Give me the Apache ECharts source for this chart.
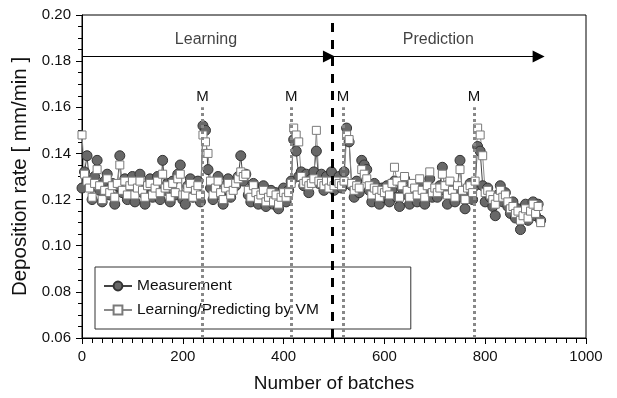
<!DOCTYPE html>
<html>
<head>
<meta charset="utf-8">
<script src="https://cdn.jsdelivr.net/npm/echarts@6/dist/echarts.min.js"></script>
<style>
html, body { margin: 0; padding: 0; background: #fff; }
#chart { width: 617px; height: 398px; }
</style>
</head>
<body>
<div id="chart"></div>
<script>
// one sample every 5 batches, starting at batch 0
var batchStep = 5;

var measurement = [
	0.125, 0.132, 0.139, 0.127, 0.120, 0.130, 0.137, 0.124, 0.119, 0.128,
	0.131, 0.122, 0.127, 0.118, 0.126, 0.139, 0.123, 0.129, 0.120, 0.125,
	0.130,
	0.119, 0.127, 0.131, 0.123, 0.118, 0.126, 0.129, 0.121, 0.125, 0.130,
	0.120, 0.137, 0.124, 0.127, 0.119, 0.128, 0.122, 0.131, 0.135, 0.120,
	0.118, 0.126, 0.129, 0.121, 0.124, 0.128, 0.119, 0.152, 0.150, 0.133,
	0.125, 0.120, 0.127, 0.130, 0.122, 0.118, 0.126, 0.129, 0.121, 0.125,
	0.126, 0.130, 0.139, 0.128, 0.131, 0.122, 0.119, 0.127, 0.124, 0.118,
	0.122, 0.126, 0.117, 0.121, 0.124, 0.118, 0.123, 0.116, 0.120, 0.125,
	0.119, 0.124, 0.128, 0.146, 0.141, 0.130, 0.132, 0.126, 0.131, 0.123,
	0.129, 0.132, 0.141, 0.127, 0.131, 0.124, 0.130, 0.126, 0.132, 0.124,
	0.127, 0.130, 0.125, 0.132, 0.151, 0.145, 0.126, 0.121, 0.128, 0.123,
	0.137, 0.135, 0.133, 0.124, 0.119, 0.127, 0.122, 0.118, 0.125, 0.121,
	0.126, 0.119, 0.124, 0.128, 0.121, 0.117, 0.125, 0.129, 0.122, 0.118,
	0.126, 0.124, 0.119, 0.127, 0.123, 0.118, 0.125, 0.129, 0.121, 0.124,
	0.121, 0.126, 0.134, 0.124, 0.118, 0.127, 0.122, 0.119, 0.125, 0.137,
	0.121, 0.116, 0.124, 0.127, 0.120, 0.126, 0.143, 0.141, 0.126, 0.119,
	0.125, 0.121, 0.117, 0.113, 0.122, 0.126, 0.119, 0.123, 0.117, 0.114,
	0.119, 0.112, 0.116, 0.107, 0.113, 0.118, 0.111, 0.116, 0.119, 0.113,
	0.118, 0.111
];

var vmPrediction = [
	0.148, 0.131, 0.128, 0.125, 0.121, 0.127, 0.133, 0.126, 0.120, 0.124,
	0.129, 0.123, 0.126, 0.121, 0.127, 0.135, 0.124, 0.128, 0.122, 0.126,
	0.128,
	0.122, 0.125, 0.128, 0.124, 0.121, 0.126, 0.127, 0.122, 0.125, 0.128,
	0.123, 0.131, 0.125, 0.126, 0.121, 0.127, 0.123, 0.129, 0.131, 0.122,
	0.122, 0.125, 0.127, 0.121, 0.124, 0.126, 0.122, 0.148, 0.145, 0.140,
	0.128, 0.122, 0.125, 0.128, 0.123, 0.120, 0.125, 0.127, 0.122, 0.124,
	0.127, 0.129, 0.132, 0.130, 0.131, 0.124, 0.121, 0.126, 0.123, 0.120,
	0.122, 0.124, 0.119, 0.121, 0.123, 0.119, 0.122, 0.118, 0.121, 0.123,
	0.121, 0.123, 0.127, 0.151, 0.148, 0.145, 0.130, 0.127, 0.128, 0.126,
	0.127, 0.129, 0.150, 0.128, 0.127, 0.126, 0.128, 0.125, 0.128, 0.126,
	0.128, 0.127, 0.126, 0.128, 0.148, 0.146, 0.127, 0.124, 0.126, 0.125,
	0.133, 0.131, 0.129, 0.126, 0.122, 0.125, 0.124, 0.121, 0.124, 0.123,
	0.125, 0.122, 0.127, 0.134, 0.128, 0.121, 0.126, 0.130, 0.124, 0.121,
	0.127, 0.125, 0.122, 0.129, 0.124, 0.121, 0.126, 0.132, 0.123, 0.125,
	0.123, 0.125, 0.131, 0.126, 0.122, 0.128, 0.124, 0.121, 0.126, 0.133,
	0.124, 0.120, 0.125, 0.126, 0.123, 0.128, 0.151, 0.148, 0.139, 0.123,
	0.124, 0.122, 0.120, 0.118, 0.121, 0.124, 0.121, 0.122, 0.119, 0.116,
	0.117, 0.114, 0.115, 0.111, 0.113, 0.116, 0.112, 0.115, 0.118, 0.114,
	0.117, 0.110
];

// maintenance events (M) and the learning / prediction switch
var maintenanceBatches = [239, 415, 518, 778];
var switchBatch = 497;
var phaseNames = ['Learning', 'Prediction'];
var phaseLabelBatches = [246, 707];

function toPoints(values) {
	var pts = [];
	for (var i = 0; i < values.length; i++) {
		pts.push([i * batchStep, values[i]]);
	}
	return pts;
}

function genOption() {
	var font = 'Liberation Sans, Arial, sans-serif';

	var marks = [];
	for (var i = 0; i < maintenanceBatches.length; i++) {
		marks.push([
			{ coord : [ maintenanceBatches[i], 0.06 ], symbol : 'none' },
			{ coord : [ maintenanceBatches[i], 0.16 ], symbol : 'none' }
		]);
	}

	var guides = [
		[ { coord : [ switchBatch, 0.06 ], symbol : 'none',
			lineStyle : { color : '#000', width : 3, type : [ 9, 8 ] } },
		  { coord : [ switchBatch, 0.20 ], symbol : 'none' } ],
		[ { coord : [ 0, 0.182 ], symbol : 'none',
			lineStyle : { color : '#000', width : 1, type : 'solid' } },
		  { coord : [ 490, 0.182 ], symbol : 'triangle' } ],
		[ { coord : [ 500, 0.182 ], symbol : 'none',
			lineStyle : { color : '#000', width : 1, type : 'solid' } },
		  { coord : [ 906, 0.182 ], symbol : 'triangle' } ]
	];

	var phaseTexts = [];
	for (var j = 0; j < phaseNames.length; j++) {
		phaseTexts.push({ name : phaseNames[j], value : [ phaseLabelBatches[j], 0.1893 ] });
	}

	var option = {
		animation : false,
		grid : {
			left : 82, right : 31, top : 15, bottom : 57,
			show : true, borderColor : '#000', borderWidth : 1
		},
		legend : {
			left : 95, top : 267,
			orient : 'vertical',
			data : [ 'Measurement', 'Learning/Predicting by VM' ],
			backgroundColor : '#fff',
			borderColor : '#333', borderWidth : 1,
			padding : [ 11, 92, 11, 8 ],
			itemGap : 8, itemWidth : 28, itemHeight : 11,
			textStyle : { fontFamily : font, fontSize : 15.5, color : '#111' }
		},
		xAxis : {
			type : 'value', min : 0, max : 1000, interval : 200,
			name : 'Number of batches', nameLocation : 'middle', nameGap : 36,
			nameTextStyle : { fontFamily : font, fontSize : 19, color : '#111' },
			axisLine : { lineStyle : { color : '#000', width : 1 } },
			axisTick : { length : 6, lineStyle : { color : '#000' } },
			minorTick : { show : true, splitNumber : 10, length : 5, lineStyle : { color : '#000' } },
			axisLabel : {
				fontFamily : font, fontSize : 15, color : '#111', margin : 11,
				formatter : function (v) { return String(v); }
			},
			splitLine : { show : false }
		},
		yAxis : {
			type : 'value', min : 0.06, max : 0.20, interval : 0.02,
			name : 'Deposition rate [ mm/min ]', nameLocation : 'middle', nameGap : 45,
			nameTextStyle : { fontFamily : font, fontSize : 20.5, color : '#111' },
			axisLine : { show : true, lineStyle : { color : '#000', width : 1 } },
			axisTick : { show : true, length : 6, lineStyle : { color : '#000' } },
			minorTick : { show : true, splitNumber : 4, length : 4, lineStyle : { color : '#000' } },
			axisLabel : {
				fontFamily : font, fontSize : 15, color : '#111', margin : 11,
				formatter : function (v) { return v.toFixed(2); }
			},
			splitLine : { show : false }
		},
		series : [ {
			name : 'Measurement',
			type : 'line',
			data : toPoints(measurement),
			symbol : 'circle', symbolSize : 10,
			showAllSymbol : true,
			lineStyle : { color : '#444', width : 1 },
			itemStyle : { color : '#686868', borderColor : '#333', borderWidth : 1 },
			markLine : {
				silent : true,
				symbol : 'none',
				lineStyle : { color : '#888', width : 3, type : [ 3, 3 ] },
				label : {
					show : true, position : 'end', formatter : 'M', distance : 3,
					fontFamily : font, fontSize : 15, color : '#111'
				},
				data : marks
			}
		}, {
			name : 'Learning/Predicting by VM',
			type : 'line',
			data : toPoints(vmPrediction),
			symbol : 'rect', symbolSize : 8,
			showAllSymbol : true,
			lineStyle : { color : '#8a8a8a', width : 1 },
			itemStyle : { color : '#fff', borderColor : '#7a7a7a', borderWidth : 1 }
		}, {
			name : 'phases',
			type : 'scatter',
			data : phaseTexts,
			symbolSize : 0,
			z : 5,
			label : {
				show : true, position : 'inside', formatter : '{b}',
				fontFamily : font, fontSize : 16, color : '#111'
			},
			markLine : {
				silent : true,
				symbolSize : 12,
				label : { show : false },
				data : guides
			}
		} ]
	};

	return option;
}

var chart = echarts.init(document.getElementById('chart'));
chart.setOption(genOption(), true);
</script>
</body>
</html>
